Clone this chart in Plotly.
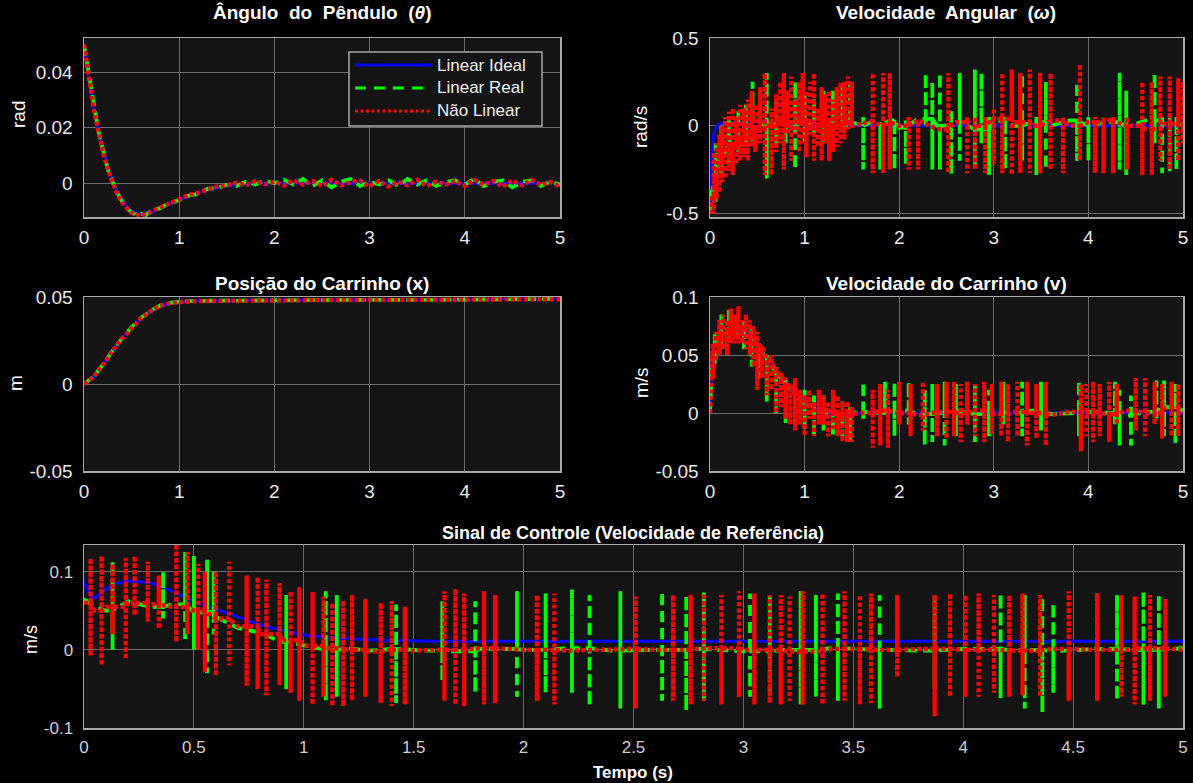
import plotly.graph_objects as go

W, H = 1193, 783

# ---------------- Data ----------------
# Pendulum angle (rad)
t_theta = [0, 0.05, 0.1, 0.15, 0.2, 0.25, 0.3, 0.35, 0.4, 0.45, 0.5, 0.55, 0.6, 0.65, 0.7, 0.75, 0.8, 0.85, 0.9, 0.95, 1.0,
           1.1, 1.2, 1.3, 1.4, 1.5, 1.6, 1.7, 1.8, 1.9, 2.0,
           2.1, 2.2, 2.3, 2.4, 2.5, 2.6, 2.7, 2.8, 2.9, 3.0,
           3.1, 3.2, 3.3, 3.4, 3.5, 3.6, 3.7, 3.8, 3.9, 4.0,
           4.1, 4.2, 4.3, 4.4, 4.5, 4.6, 4.7, 4.8, 4.9, 5.0]
theta_ideal = [0.050, 0.038, 0.028, 0.020, 0.012, 0.006, 0.001, -0.003, -0.006, -0.0085, -0.010, -0.0108, -0.011, -0.0108, -0.0104, -0.0098, -0.0091, -0.0083, -0.0075, -0.0067, -0.006,
               -0.0046, -0.0034, -0.0024, -0.0016, -0.001, -0.0006, -0.0003, -0.0001, 0.0, 0.0001,
               0.0001, 0.0001, 0.0001, 0, 0, 0, 0, 0, 0, 0,
               0, 0, 0, 0, 0, 0, 0, 0, 0, 0,
               0, 0, 0, 0, 0, 0, 0, 0, 0, 0]
theta_real = [0.050, 0.039, 0.028, 0.019, 0.012, 0.005, 0.0005, -0.0035, -0.0065, -0.009, -0.0105, -0.0115, -0.011, -0.0115, -0.010, -0.0095, -0.009, -0.008, -0.0072, -0.0068, -0.006,
              -0.0045, -0.0038, -0.002, -0.0018, -0.0005, -0.001, 0.0005, -0.0005, 0.001, 0.0,
              0.0012, -0.0005, 0.0015, -0.001, 0.001, -0.0015, 0.0005, 0.0015, -0.001, 0.0005,
              -0.0005, 0.001, -0.001, 0.0015, -0.0005, 0.001, -0.001, 0.0005, 0.001, -0.0005,
              0.0015, -0.001, 0.0005, 0.001, -0.0015, 0.0005, 0.001, -0.001, 0.0005, -0.0005]
theta_nl = [0.050, 0.038, 0.027, 0.019, 0.011, 0.005, 0.0, -0.004, -0.007, -0.009, -0.0108, -0.0112, -0.0118, -0.011, -0.0105, -0.0095, -0.0088, -0.0082, -0.0074, -0.0066, -0.0058,
            -0.0042, -0.0035, -0.0022, -0.0012, -0.0008, 0.0002, -0.0008, 0.0008, -0.0004, 0.0005,
            -0.0008, 0.001, -0.0005, 0.0008, -0.001, 0.0012, -0.0008, 0.0004, 0.001, -0.0012,
            0.0008, -0.0012, 0.0005, -0.0008, 0.0012, -0.001, 0.0006, -0.0005, 0.0008, -0.001,
            0.0012, -0.0006, 0.0008, -0.0012, 0.001, -0.0008, 0.0012, -0.0006, 0.0004, -0.0012]

# Cart position (m)
t_pos = [0, 0.1, 0.2, 0.3, 0.4, 0.5, 0.6, 0.7, 0.8, 0.9, 1.0, 1.2, 1.5, 2.0, 2.5, 3.0, 3.5, 4.0, 4.5, 5.0]
pos_ideal = [0, 0.004, 0.011, 0.019, 0.026, 0.0325, 0.038, 0.042, 0.045, 0.0465, 0.0472, 0.0477, 0.048, 0.0481, 0.0482, 0.0483, 0.0484, 0.0485, 0.0487, 0.0488]
pos_real = [0, 0.0042, 0.0112, 0.0192, 0.0262, 0.0327, 0.0381, 0.0421, 0.0451, 0.0466, 0.0473, 0.0478, 0.0479, 0.0482, 0.0481, 0.0484, 0.0483, 0.0486, 0.0486, 0.0489]
pos_nl = [0, 0.0041, 0.011, 0.0191, 0.026, 0.0324, 0.0379, 0.0419, 0.0449, 0.0464, 0.0471, 0.0476, 0.0479, 0.048, 0.0482, 0.0482, 0.0484, 0.0484, 0.0487, 0.0487]

# Angular velocity (rad/s)
t_w_ideal = [0, 0.01, 0.02, 0.04, 0.06, 0.1, 0.2, 0.4, 0.6, 0.8, 1.0, 1.5, 2.0, 3.0, 4.0, 5.0]
w_ideal = [-0.5, -0.3, -0.15, -0.05, -0.01, 0.01, 0.02, 0.02, 0.02, 0.015, 0.01, 0.003, 0, 0, 0, 0]
t_w_base = [0, 0.02, 0.05, 0.1, 0.15, 0.2, 0.3, 0.4, 0.5, 0.6, 0.7, 0.8, 0.9, 1.0, 1.1, 1.2, 1.3, 1.4, 1.5, 1.6,
            1.7, 1.8, 1.9, 2.0, 2.2, 2.4, 2.6, 2.8, 3.0, 3.2, 3.4, 3.6, 3.8, 4.0, 4.2, 4.4, 4.6, 4.8, 5.0]
w_real_base = [-0.5, -0.38, -0.3, -0.2, -0.16, -0.1, -0.07, -0.05, -0.01, 0.02, 0.0, 0.03, 0.0, 0.02, 0.01, 0.0, 0.03, 0.0, 0.02, 0.0,
               0.02, 0.0, 0.03, -0.01, 0.04, 0.0, 0.02, -0.02, 0.03, 0.0, 0.02, 0.0, 0.03, 0.0, 0.02, -0.01, 0.03, 0.0, 0.01]
w_nl_base = [-0.5, -0.4, -0.3, -0.22, -0.15, -0.12, -0.08, -0.04, -0.02, 0.0, 0.02, 0.0, 0.03, 0.01, 0.0, 0.02, 0.0, 0.03, 0.0, 0.01,
             0.03, 0.0, 0.02, 0.0, 0.03, -0.02, 0.02, 0.0, 0.04, 0.02, 0.0, 0.03, 0.0, 0.02, 0.03, 0.0, -0.02, 0.01, 0.0]
# chattering bursts: [time, top, bottom]
w_real_bursts = [[0.06, -0.1, -0.45], [0.12, 0.0, -0.3], [0.2, 0.05, -0.22], [0.3, 0.1, -0.15], [0.38, 0.12, -0.12],
                 [0.45, 0.25, -0.1], [0.6, 0.3, -0.3], [0.7, 0.15, -0.1], [0.8, 0.2, -0.1], [0.9, 0.25, -0.25],
                 [1.0, 0.2, -0.1], [1.1, 0.15, -0.05], [1.2, 0.2, -0.1], [1.3, 0.2, -0.08], [1.4, 0.22, -0.05],
                 [1.48, 0.25, 0.0], [1.62, 0.05, -0.25], [1.8, 0.02, -0.25], [1.95, 0.05, -0.25], [2.07, 0.03, -0.22],
                 [2.28, 0.3, 0.0], [2.35, 0.25, -0.25], [2.43, 0.3, -0.25], [2.55, 0.1, -0.28], [2.64, 0.3, -0.2],
                 [2.8, 0.32, -0.25], [2.87, 0.3, -0.1], [2.95, 0.05, -0.28], [3.12, 0.05, -0.25], [3.3, 0.3, -0.2],
                 [3.45, 0.05, -0.28], [3.55, 0.25, -0.25], [3.88, 0.25, -0.2], [4.0, 0.05, -0.2], [4.33, 0.3, -0.25],
                 [4.4, 0.2, -0.28], [4.7, 0.3, -0.1], [4.78, 0.05, -0.27], [4.86, 0.05, -0.27], [4.93, 0.05, -0.25]]
w_nl_bursts = [[0.04, -0.15, -0.5], [0.07, -0.1, -0.42], [0.1, -0.05, -0.38], [0.13, 0.0, -0.32], [0.16, 0.05, -0.3],
               [0.2, 0.08, -0.26], [0.24, 0.1, -0.28], [0.28, 0.05, -0.22], [0.32, 0.12, -0.2], [0.36, 0.1, -0.18],
               [0.4, 0.15, -0.2], [0.44, 0.2, -0.12], [0.48, 0.12, -0.15], [0.53, 0.22, -0.1], [0.58, 0.3, -0.28],
               [0.65, 0.1, -0.28], [0.7, 0.18, -0.15], [0.74, 0.25, -0.1], [0.78, 0.3, -0.25], [0.82, 0.2, -0.05],
               [0.86, 0.28, -0.2], [0.9, 0.15, -0.05], [0.94, 0.25, -0.15], [0.98, 0.3, -0.1], [1.02, 0.2, -0.18],
               [1.06, 0.25, -0.05], [1.1, 0.3, -0.2], [1.14, 0.1, -0.12], [1.18, 0.22, -0.2], [1.22, 0.18, -0.1],
               [1.26, 0.2, -0.2], [1.3, 0.15, -0.15], [1.34, 0.22, -0.12], [1.38, 0.25, -0.1], [1.42, 0.25, -0.08],
               [1.46, 0.28, -0.02], [1.5, 0.25, 0.0], [1.72, 0.3, -0.27], [1.83, 0.3, -0.27], [1.9, 0.3, -0.25],
               [2.1, 0.05, -0.25], [2.2, 0.03, -0.25], [2.52, 0.3, -0.27], [2.72, 0.05, -0.27], [2.8, 0.05, -0.25],
               [2.91, 0.05, -0.27], [3.0, 0.1, -0.22], [3.09, 0.3, -0.27], [3.19, 0.32, -0.28], [3.28, 0.3, -0.27],
               [3.38, 0.32, -0.27], [3.49, 0.3, -0.27], [3.6, 0.3, -0.25], [3.73, 0.05, -0.27], [3.91, 0.35, -0.2],
               [4.07, 0.05, -0.27], [4.16, 0.05, -0.27], [4.26, 0.05, -0.27], [4.41, 0.05, -0.25], [4.57, 0.25, -0.28],
               [4.67, 0.25, -0.28], [4.76, 0.28, -0.2], [4.86, 0.28, -0.25], [4.95, 0.27, -0.2], [5.0, 0.25, -0.1]]

# Cart velocity (m/s)
t_v_ideal = [0, 0.01, 0.03, 0.05, 0.1, 0.2, 0.3, 0.4, 0.5, 0.6, 0.7, 0.8, 0.9, 1.0, 1.1, 1.2, 1.3, 1.4, 1.5, 1.6, 2.0, 3.0, 4.0, 5.0]
v_ideal = [0, 0.035, 0.052, 0.058, 0.065, 0.071, 0.072, 0.068, 0.06, 0.048, 0.036, 0.026, 0.017, 0.010, 0.005, 0.002, 0.0, -0.001, -0.001, 0, 0, 0, 0, 0]
t_v_base = [0, 0.02, 0.05, 0.1, 0.2, 0.3, 0.4, 0.5, 0.6, 0.7, 0.8, 0.9, 1.0, 1.1, 1.2, 1.3, 1.4, 1.5, 1.6, 1.8,
            2.0, 2.2, 2.4, 2.6, 2.8, 3.0, 3.2, 3.4, 3.6, 3.8, 4.0, 4.2, 4.4, 4.6, 4.8, 5.0]
v_real_base = [0, 0.042, 0.056, 0.066, 0.071, 0.073, 0.067, 0.057, 0.045, 0.035, 0.025, 0.015, 0.008, 0.005, 0.001, -0.001, -0.001, 0.0, 0.001, 0.0,
               0.002, -0.001, 0.0, 0.002, -0.001, 0.001, 0.0, 0.002, -0.001, 0.0, 0.001, 0.0, -0.002, 0.001, 0.005, 0.002]
v_nl_base = [0, 0.04, 0.055, 0.065, 0.07, 0.072, 0.066, 0.058, 0.046, 0.034, 0.024, 0.016, 0.009, 0.004, 0.002, 0.0, -0.002, -0.001, 0.0, 0.002,
             0.0, -0.002, 0.001, 0.0, 0.002, -0.001, 0.001, 0.0, -0.002, 0.001, 0.0, -0.001, 0.002, 0.0, 0.004, 0.0]
v_real_bursts = [[0.05, 0.07, 0.04], [0.12, 0.085, 0.055], [0.2, 0.09, 0.06], [0.28, 0.085, 0.065], [0.36, 0.08, 0.055],
                 [0.44, 0.075, 0.04], [0.52, 0.06, 0.03], [0.6, 0.05, 0.01], [0.7, 0.04, 0.0], [0.8, 0.03, -0.01],
                 [0.9, 0.025, -0.01], [1.0, 0.02, -0.015], [1.1, 0.015, -0.02], [1.2, 0.015, -0.015], [1.3, 0.01, -0.02],
                 [1.4, 0.01, -0.02], [1.48, 0.005, -0.025], [1.62, 0.027, -0.005], [1.85, 0.027, 0.0], [1.95, 0.027, -0.02],
                 [2.1, 0.027, -0.01], [2.27, 0.02, -0.028], [2.35, 0.025, -0.025], [2.48, 0.027, -0.028], [2.6, 0.025, -0.02],
                 [2.8, 0.025, -0.025], [2.95, 0.02, -0.02], [3.1, 0.027, -0.01], [3.3, 0.027, -0.02], [3.5, 0.027, -0.015],
                 [3.9, 0.028, -0.02], [4.28, 0.027, -0.01], [4.33, 0.02, -0.028], [4.45, 0.015, -0.028], [4.72, 0.028, -0.005],
                 [4.8, 0.028, -0.02], [4.92, 0.025, -0.027]]
v_nl_bursts = [[0.03, 0.06, 0.03], [0.06, 0.07, 0.045], [0.1, 0.08, 0.05], [0.14, 0.085, 0.055], [0.18, 0.08, 0.05],
               [0.22, 0.09, 0.06], [0.26, 0.085, 0.06], [0.3, 0.092, 0.06], [0.34, 0.08, 0.06], [0.38, 0.085, 0.055],
               [0.42, 0.08, 0.05], [0.46, 0.075, 0.04], [0.5, 0.07, 0.02], [0.55, 0.055, 0.03], [0.6, 0.045, 0.015],
               [0.65, 0.05, 0.02], [0.7, 0.04, 0.0], [0.75, 0.035, 0.005], [0.8, 0.03, -0.005], [0.85, 0.025, -0.01],
               [0.9, 0.03, -0.015], [0.95, 0.02, -0.01], [1.0, 0.015, -0.02], [1.05, 0.02, -0.005], [1.1, 0.01, -0.02],
               [1.15, 0.02, -0.01], [1.2, 0.015, -0.01], [1.25, 0.01, -0.02], [1.3, 0.02, -0.015], [1.35, 0.015, -0.02],
               [1.4, 0.01, -0.025], [1.45, 0.01, -0.025], [1.5, 0.005, -0.025], [1.72, 0.02, -0.03], [1.8, 0.025, -0.028],
               [1.88, 0.02, -0.03], [2.0, 0.027, -0.01], [2.12, 0.025, -0.02], [2.25, 0.027, -0.015], [2.4, 0.025, -0.02],
               [2.5, 0.027, -0.022], [2.58, 0.027, -0.02], [2.65, 0.025, -0.025], [2.72, 0.027, -0.01], [2.8, 0.025, -0.02],
               [2.9, 0.027, -0.025], [2.98, 0.025, -0.018], [3.08, 0.027, -0.02], [3.15, 0.025, -0.025], [3.25, 0.027, -0.02],
               [3.35, 0.027, -0.028], [3.45, 0.025, -0.022], [3.55, 0.027, -0.028], [3.92, 0.025, -0.033], [3.98, 0.025, -0.02],
               [4.05, 0.027, -0.025], [4.12, 0.025, -0.02], [4.22, 0.027, -0.025], [4.3, 0.025, -0.01], [4.5, 0.03, -0.015],
               [4.6, 0.03, -0.02], [4.7, 0.027, -0.01], [4.78, 0.025, -0.022], [4.88, 0.027, -0.02], [4.95, 0.025, -0.02]]

# Control signal / reference velocity (m/s)
t_u_ideal = [0, 0.02, 0.05, 0.1, 0.15, 0.2, 0.3, 0.4, 0.5, 0.6, 0.7, 0.8, 0.9, 1.0, 1.1, 1.2, 1.4, 1.6, 2.0, 3.0, 4.0, 5.0]
u_ideal = [0.088, 0.072, 0.066, 0.078, 0.085, 0.088, 0.086, 0.075, 0.062, 0.052, 0.041, 0.032, 0.025, 0.019, 0.016, 0.014, 0.012, 0.011, 0.011, 0.011, 0.011, 0.011]
t_u_base = [0, 0.05, 0.1, 0.2, 0.3, 0.4, 0.5, 0.6, 0.7, 0.8, 0.9, 1.0, 1.1, 1.2, 1.3, 1.4, 1.5, 1.6, 1.8, 2.0,
            2.2, 2.4, 2.6, 2.8, 3.0, 3.2, 3.4, 3.6, 3.8, 4.0, 4.2, 4.4, 4.6, 4.8, 5.0]
u_real_base = [0.065, 0.055, 0.05, 0.062, 0.055, 0.058, 0.048, 0.042, 0.028, 0.022, 0.01, 0.006, 0.0, 0.002, -0.001, 0.001, 0.0, -0.002, 0.001, 0.0,
               0.002, -0.001, 0.0, 0.001, -0.002, 0.0, 0.002, 0.0, -0.001, 0.001, 0.0, -0.002, 0.001, 0.0, 0.002]
u_nl_base = [0.06, 0.05, 0.055, 0.06, 0.058, 0.055, 0.05, 0.04, 0.03, 0.02, 0.012, 0.005, 0.002, 0.0, -0.002, 0.0, -0.001, 0.0, 0.002, 0.0,
             -0.001, 0.001, 0.0, 0.002, 0.0, -0.002, 0.001, 0.0, 0.001, 0.0, -0.001, 0.001, 0.0, 0.002, 0.0]
u_real_bursts = [[0.13, 0.115, 0.0], [0.36, 0.1, 0.04], [0.46, 0.125, 0.01], [0.5, 0.12, 0.0], [0.56, 0.115, -0.03],
                 [0.59, 0.1, 0.02], [0.92, 0.07, -0.05], [1.1, 0.075, -0.065], [1.15, 0.07, -0.06], [1.42, 0.058, -0.068],
                 [1.63, 0.062, -0.04], [1.78, 0.062, -0.055], [1.87, 0.07, -0.05], [1.97, 0.075, -0.06], [2.1, 0.072, -0.055],
                 [2.22, 0.077, -0.055], [2.3, 0.07, -0.072], [2.44, 0.075, -0.075], [2.63, 0.075, -0.065], [2.74, 0.07, -0.078],
                 [2.82, 0.075, -0.065], [3.03, 0.072, -0.06], [3.12, 0.07, -0.055], [3.26, 0.075, -0.07], [3.33, 0.07, -0.06],
                 [3.43, 0.072, -0.065], [3.62, 0.07, -0.075], [3.87, 0.07, -0.05], [4.17, 0.072, -0.062], [4.28, 0.07, -0.075],
                 [4.36, 0.068, -0.08], [4.41, 0.06, -0.055], [4.61, 0.072, -0.06], [4.7, 0.07, -0.065], [4.82, 0.075, -0.07],
                 [4.89, 0.07, -0.075]]
u_nl_bursts = [[0.03, 0.117, -0.008], [0.08, 0.12, -0.02], [0.13, 0.11, 0.02], [0.19, 0.117, -0.012], [0.23, 0.12, 0.044],
               [0.29, 0.113, 0.036], [0.34, 0.095, 0.027], [0.42, 0.135, 0.01], [0.47, 0.125, 0.02], [0.52, 0.11, 0.0],
               [0.55, 0.1, -0.028], [0.6, 0.1, -0.033], [0.66, 0.113, -0.02], [0.74, 0.095, -0.046], [0.79, 0.093, -0.05],
               [0.83, 0.09, -0.058], [0.89, 0.085, -0.045], [0.94, 0.075, -0.055], [0.98, 0.08, -0.065], [1.04, 0.074, -0.07],
               [1.09, 0.068, -0.06], [1.13, 0.06, -0.072], [1.18, 0.063, -0.072], [1.22, 0.07, -0.065], [1.28, 0.065, -0.06],
               [1.35, 0.06, -0.068], [1.4, 0.062, -0.072], [1.46, 0.055, -0.07], [1.64, 0.075, -0.065], [1.69, 0.078, -0.07],
               [1.73, 0.072, -0.072], [1.82, 0.075, -0.07], [1.87, 0.07, -0.068], [2.06, 0.07, -0.065], [2.14, 0.072, -0.07],
               [2.51, 0.068, -0.075], [2.68, 0.07, -0.065], [2.76, 0.07, -0.07], [2.82, 0.072, -0.065], [2.9, 0.07, -0.07],
               [2.98, 0.075, -0.06], [3.05, 0.072, -0.07], [3.12, 0.07, -0.068], [3.17, 0.07, -0.07], [3.21, 0.068, -0.065],
               [3.27, 0.075, -0.07], [3.36, 0.072, -0.07], [3.46, 0.075, -0.065], [3.53, 0.07, -0.07], [3.58, 0.072, -0.068],
               [3.7, 0.07, -0.035], [3.87, 0.07, -0.085], [3.94, 0.072, -0.06], [4.01, 0.07, -0.06], [4.07, 0.072, -0.06],
               [4.14, 0.07, -0.055], [4.21, 0.07, -0.06], [4.27, 0.072, -0.058], [4.35, 0.07, -0.06], [4.48, 0.075, -0.065],
               [4.61, 0.072, -0.065], [4.72, 0.07, -0.06], [4.78, 0.068, -0.07], [4.85, 0.07, -0.065], [4.92, 0.065, -0.06]]

series_names = ["Linear Ideal", "Linear Real", "Não Linear"]
x_ticks_small = [0, 1, 2, 3, 4, 5]
x_ticks_bottom = [0, 0.5, 1, 1.5, 2, 2.5, 3, 3.5, 4, 4.5, 5]
x_ticks_bottom_text = ["0", "0.5", "1", "1.5", "2", "2.5", "3", "3.5", "4", "4.5", "5"]


def with_chatter(base_t, base_y, bursts):
    """Merge the smooth samples with the chattering bursts; each burst is a vertical
    swing at its time, starting and ending on the latest smooth sample value."""
    xs, ys = [], []
    bi = 0
    bursts = sorted(bursts)
    last = base_y[0]
    for t, y in zip(base_t, base_y):
        while bi < len(bursts) and bursts[bi][0] < t:
            bt, top, bot = bursts[bi]
            xs += [bt, bt, bt, bt]
            ys += [last, top, bot, last]
            bi += 1
        xs.append(t)
        ys.append(y)
        last = y
    while bi < len(bursts):
        bt, top, bot = bursts[bi]
        xs += [bt, bt, bt]
        ys += [top, bot, last]
        bi += 1
    return xs, ys


# ---------------- Styles ----------------
BLUE = dict(color="#0000ff", width=3)
GREEN = dict(color="#00ff00", width=3.8, dash="11px,6px")
RED = dict(color="#ff0000", width=4.3, dash="4px,2.5px")
LEG_GREEN = dict(color="#00ff00", width=3.2, dash="11px,8px")
LEG_RED = dict(color="#ff0000", width=3.2, dash="3px,2.5px")
FONT = "Liberation Sans, Arial, sans-serif"


def px_x(x):
    return x / W


def px_y(y):
    return 1 - y / H


fig = go.Figure()


def add3(xa, ya, ideal, real, nl):
    for (tx, ty), line, nm in zip([ideal, real, nl], [BLUE, GREEN, RED], series_names):
        fig.add_trace(go.Scatter(x=tx, y=ty, mode="lines", line=line, name=nm,
                                 xaxis=xa, yaxis=ya, showlegend=False, hoverinfo="skip"))


add3("x", "y", (t_theta, theta_ideal), (t_theta, theta_real), (t_theta, theta_nl))
add3("x2", "y2", (t_w_ideal, w_ideal), with_chatter(t_w_base, w_real_base, w_real_bursts),
     with_chatter(t_w_base, w_nl_base, w_nl_bursts))
add3("x3", "y3", (t_pos, pos_ideal), (t_pos, pos_real), (t_pos, pos_nl))
add3("x4", "y4", (t_v_ideal, v_ideal), with_chatter(t_v_base, v_real_base, v_real_bursts),
     with_chatter(t_v_base, v_nl_base, v_nl_bursts))
add3("x5", "y5", (t_u_ideal, u_ideal), with_chatter(t_u_base, u_real_base, u_real_bursts),
     with_chatter(t_u_base, u_nl_base, u_nl_bursts))

axis_common = dict(showgrid=True, gridcolor="#6a6a6a", gridwidth=1, showline=True, linecolor="#a8a8a8",
                   linewidth=1.5, mirror=True, zeroline=False, ticks="", automargin=False,
                   tickfont=dict(family=FONT, size=19, color="#e8e8e8"))

LX = [px_x(84), px_x(560)]
RX = [px_x(710), px_x(1183)]
BX = [px_x(84), px_x(1183)]
TOPY = [px_y(217), px_y(38)]
MIDY = [px_y(471), px_y(297)]
BOTY = [px_y(728), px_y(545)]

layout_axes = {}
panels = [
    ("", LX, TOPY, [-0.0122, 0.0524], [0, 0.02, 0.04], ["0", "0.02", "0.04"]),
    ("2", RX, TOPY, [-0.52, 0.5], [-0.5, 0, 0.5], ["-0.5", "0", "0.5"]),
    ("3", LX, MIDY, [-0.05, 0.05], [-0.05, 0, 0.05], ["-0.05", "0", "0.05"]),
    ("4", RX, MIDY, [-0.05, 0.1], [-0.05, 0, 0.05, 0.1], ["-0.05", "0", "0.05", "0.1"]),
]
for suf, xd, yd, yr, yt, ytt in panels:
    layout_axes["xaxis" + suf] = dict(axis_common, domain=xd, anchor="y" + suf, range=[0, 5],
                                      tickvals=x_ticks_small, ticktext=[str(v) for v in x_ticks_small],
                                      ticklabelstandoff=3)
    layout_axes["yaxis" + suf] = dict(axis_common, domain=yd, anchor="x" + suf, range=yr,
                                      tickvals=yt, ticktext=ytt, ticklabelstandoff=6)

bottom_font = dict(family=FONT, size=17, color="#cfcfcf")
layout_axes["xaxis5"] = dict(axis_common, domain=BX, anchor="y5", range=[0, 5], tickvals=x_ticks_bottom,
                             ticktext=x_ticks_bottom_text, tickfont=bottom_font, ticklabelstandoff=3)
layout_axes["yaxis5"] = dict(axis_common, domain=BOTY, anchor="x5", range=[-0.1, 0.134], tickvals=[-0.1, 0, 0.1],
                             ticktext=["-0.1", "0", "0.1"], tickfont=bottom_font, ticklabelstandoff=6)

annotations = []


def text(x, y, s, size=18, bold=False, angle=0, xanchor="center", color="#ffffff"):
    annotations.append(dict(x=px_x(x), y=px_y(y), xref="paper", yref="paper", text=("<b>%s</b>" % s) if bold else s,
                            showarrow=False, textangle=angle, xanchor=xanchor, yanchor="middle",
                            font=dict(family=FONT, size=size, color=color)))


text(322, 13, "Ângulo  do  Pêndulo  (<i>θ</i>)", bold=True, size=19)
text(946, 13, "Velocidade  Angular  (<i>ω</i>)", bold=True, size=19)
text(322, 283, "Posição do Carrinho (x)", bold=True, size=19)
text(946, 283, "Velocidade do Carrinho (v)", bold=True, size=19)
text(633, 533, "Sinal de Controle (Velocidade de Referência)", bold=True, size=18)
text(633, 772, "Tempo (s)", bold=True, size=17)
text(18, 115, "rad", angle=-90, size=19)
text(641, 127, "rad/s", angle=-90, size=19)
text(15, 383, "m", angle=-90, size=19)
text(641, 383, "m/s", angle=-90, size=19)
text(31, 640, "m/s", angle=-90, size=18)

# legend box drawn manually (MATLAB-style long line samples)
shapes = [dict(type="rect", xref="paper", yref="paper", x0=px_x(349), x1=px_x(542), y0=px_y(126), y1=px_y(52),
               fillcolor="#141414", line=dict(color="#a8a8a8", width=1.5), layer="above")]
for yy, line, nm in zip([65, 88, 111], [BLUE, LEG_GREEN, LEG_RED], series_names):
    shapes.append(dict(type="line", xref="paper", yref="paper", x0=px_x(355), x1=px_x(431), y0=px_y(yy), y1=px_y(yy),
                       line=line, layer="above"))
    text(435, yy, nm, size=17, xanchor="left", color="#f0f0f0")

fig.update_layout(width=W, height=H, margin=dict(l=0, r=0, t=0, b=0, autoexpand=False), paper_bgcolor="#000000",
                  plot_bgcolor="#141414", showlegend=False, annotations=annotations, shapes=shapes,
                  **layout_axes)

fig.write_html("out.html", include_plotlyjs=True, config={"displayModeBar": False, "staticPlot": True},
               post_script="document.body.style.margin='0px';document.documentElement.style.overflow='hidden';")
